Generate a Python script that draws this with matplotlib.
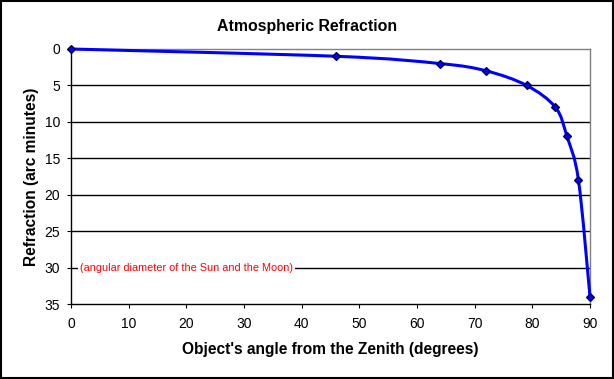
import matplotlib
matplotlib.use("Agg")
from matplotlib import pyplot as plt
from matplotlib.path import Path
from matplotlib.patches import PathPatch, Rectangle

# zenith angle (degrees) and refraction (arc minutes)
angle = [0, 46, 64, 72, 79, 84, 86, 88, 90]
refraction = [0, 1, 2, 3, 5, 8, 12, 18, 34]

xticks = [0, 10, 20, 30, 40, 50, 60, 70, 80, 90]
yticks = [0, 5, 10, 15, 20, 25, 30, 35]
gridlines = [5, 10, 15, 20, 25, 30]
note = "(angular diameter of the Sun and the Moon)"
note_y = 30

plt.rcParams['font.family'] = ['Liberation Sans', 'DejaVu Sans']

fig = plt.figure(figsize=(6.14, 3.79), dpi=100)
ax = fig.add_axes([71/614, 1 - 304/379, (590 - 71)/614, (304 - 49)/379])

# Excel style smoothed line: cubic bezier segments through the points
pts = list(zip(angle, refraction))
verts = [pts[0]]
codes = [Path.MOVETO]
n = len(pts)
for i in range(n - 1):
  p0 = pts[max(i - 1, 0)]
  p1 = pts[i]
  p2 = pts[i + 1]
  p3 = pts[min(i + 2, n - 1)]
  c1 = (p1[0] + (p2[0] - p0[0])/6., p1[1] + (p2[1] - p0[1])/6.)
  c2 = (p2[0] - (p3[0] - p1[0])/6., p2[1] - (p3[1] - p1[1])/6.)
  verts += [c1, c2, p2]
  codes += [Path.CURVE4]*3
curve = PathPatch(Path(verts, codes), facecolor='none', edgecolor='#0000ff',
                  linewidth=2.2, zorder=3, clip_on=False)
ax.add_patch(curve)
ax.plot(angle, refraction, linestyle='none', marker='D', markersize=4.5,
        markerfacecolor='#0000ff', markeredgecolor='#000040',
        markeredgewidth=0.9, zorder=4, clip_on=False)

for g in gridlines:
  ax.axhline(g, color='black', linewidth=1, zorder=1)

ax.text(1.6, note_y, note, color='red', fontsize=7.8, va='center', ha='left',
        zorder=2, bbox=dict(facecolor='white', edgecolor='none', pad=1.5))

ax.set_xlim(0, 90)
ax.set_ylim(35, 0)
ax.set_xticks(xticks)
ax.set_yticks(yticks)
ax.tick_params(axis='both', labelsize=10, length=3, width=0.8, direction='out',
               color='black')
ax.tick_params(axis='y', pad=5)
ax.tick_params(axis='x', pad=6)

for side in ['top', 'right']:
  ax.spines[side].set_color('#808080')
  ax.spines[side].set_linewidth(1)
for side in ['left', 'bottom']:
  ax.spines[side].set_color('black')
  ax.spines[side].set_linewidth(1)

ax.set_xlabel("Object's angle from the Zenith (degrees)", fontsize=11.2,
              fontweight='bold', labelpad=8)
ax.set_ylabel("Refraction (arc minutes)", fontsize=11.2, fontweight='bold',
              labelpad=4)
fig.text(307/614, 1 - 26/379, "Atmospheric Refraction", fontsize=11.4,
         fontweight='bold', ha='center', va='center')

# chart border
fig.patches.append(Rectangle((0.001, 0.002), 0.997, 0.995,
                             transform=fig.transFigure, fill=False,
                             edgecolor='black', linewidth=1.5))

fig.savefig('out.png', dpi=100)
